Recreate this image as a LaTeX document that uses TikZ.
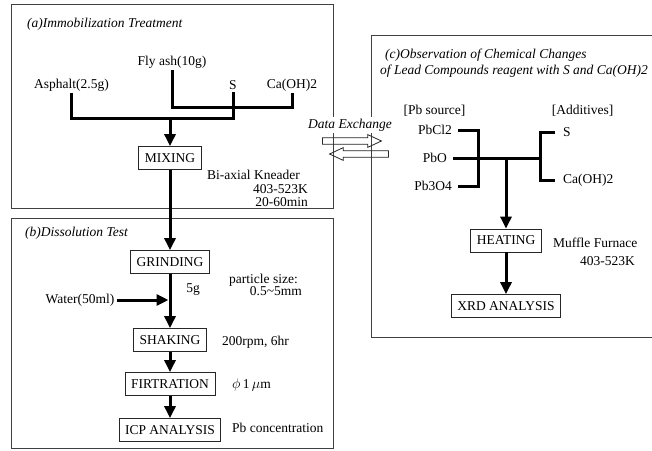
\documentclass[tikz,border=0pt]{standalone}
\usepackage{fontspec}
\setmainfont{Liberation Serif}
\usetikzlibrary{arrows.meta,shapes.arrows}
\begin{document}
\begin{tikzpicture}[x=1pt,y=-1pt,
  font=\fontsize{13.5}{16}\selectfont,
  frame/.style={draw=black!75,line width=0.7pt},
  procbox/.style={draw=black!85,line width=0.8pt,inner xsep=6pt,inner ysep=0pt,minimum height=23pt,fill=white},
  lab/.style={inner sep=2pt},
  plain/.style={inner sep=0pt},
  ttl/.style={inner sep=0pt,font=\fontsize{13.5}{16}\selectfont\itshape},
  flow/.style={line width=3pt},
  arr/.style={line width=3pt,-{Triangle[length=12pt,width=11pt]}},
  hollowarr/.style={single arrow,draw=black!85,line width=0.8pt,inner xsep=0pt,inner ysep=2.8pt,
    single arrow head extend=3.2pt,single arrow tip angle=50,minimum height=59pt}]
\useasboundingbox (0,0) rectangle (652,450);
\fill[white] (0,0) rectangle (652,450);

% frames
\draw[frame] (11,4) rectangle (333,208);
\draw[frame] (11,218) rectangle (333,448);
\draw[frame] (652,35) -| (371,337) -- (652,337);

% ---------- (a) ----------
\node[ttl,anchor=west] (ta) at (27,24) {(a)Immobilization Treatment};
\node[lab] (fly) at (172,62) {Fly ash(10g)};
\node[lab] (asphalt) at (71.5,85) {Asphalt(2.5g)};
\node[lab] (sa) at (233,85) {S};
\node[lab] (caa) at (292,85) {Ca(OH)2};
\node[procbox] (mixing) at (170,158) {MIXING};
\node[plain,anchor=west] (kn) at (207,175) {Bi-axial Kneader};
\node[plain,anchor=east] (kt) at (308,189) {403-523K};
\node[plain,anchor=east] (km) at (308,202.5) {20-60min};

\coordinate (jFly) at (172,107);
\coordinate (jCa) at (292,107);
\coordinate (jAs) at (71.5,118);
\coordinate (jS) at (233,118);
\coordinate (jMix) at (170,118);
\draw[flow] (fly.south) -- (jFly) -- (jCa) -- (caa.south);
\draw[flow] (asphalt.south) -- (jAs) -- (jS) -- (sa.south);
\draw[arr] (jMix) -- (mixing.north);

% ---------- (b) ----------
\node[ttl,anchor=west] (tb) at (25,233) {(b)Dissolution Test};
\node[procbox] (grinding) at (170,262) {GRINDING};
\node[plain,anchor=west] (ps1) at (229,280) {particle size:};
\node[plain,anchor=east] (ps2) at (302,291) {0.5\textasciitilde5mm};
\node[plain] (fiveg) at (193,290) {5g};
\node[lab] (water) at (80,300) {Water(50ml)};
\coordinate (wj) at (168.5,300);
\node[procbox] (shaking) at (170,340) {SHAKING};
\node[plain,anchor=west] (rpm) at (222,342) {200rpm, 6hr};
\node[procbox] (firt) at (170,384) {FIRTRATION};
\node[plain,anchor=west] (phi) at (232,385) {$\phi$\,1\,$\mu$m};
\node[procbox] (icp) at (170,430) {ICP ANALYSIS};
\node[plain,anchor=west] (pbc) at (232,428) {Pb concentration};

\draw[arr] (mixing.south) -- (grinding.north);
\draw[arr] (grinding.south) -- (shaking.north);
\draw[arr] (water.east) -- (wj);
\draw[arr] (shaking.south) -- (firt.north);
\draw[arr] (firt.south) -- (icp.north);

% ---------- (c) ----------
\node[ttl,anchor=west] (tc1) at (385,55) {(c)Observation of Chemical Changes};
\node[ttl,anchor=west] (tc2) at (380,71) {of Lead Compounds reagent with S and Ca(OH)2};
\node[plain] (pbsrc) at (434.5,111) {[Pb source]};
\node[plain] (addit) at (582.5,111) {[Additives]};
\node[lab,anchor=east] (pbcl) at (454,130) {PbCl2};
\node[lab,anchor=east] (pbo) at (449,158) {PbO};
\node[lab,anchor=east] (pb3) at (454,186) {Pb3O4};
\node[lab,anchor=west] (sc) at (561,132) {S};
\node[lab,anchor=west] (cac) at (561,180) {Ca(OH)2};
\node[procbox] (heating) at (506,240.5) {HEATING};
\node[plain,anchor=west] (muf) at (553,243) {Muffle Furnace};
\node[plain,anchor=east] (mk) at (635,261) {403-523K};
\node[procbox] (xrd) at (506,306) {XRD ANALYSIS};

\coordinate (barT) at (478,130);
\coordinate (barB) at (478,186);
\coordinate (addM) at (540,158);
\coordinate (addT) at (540,132);
\coordinate (addB) at (540,180);
\coordinate (hj) at (506,158);
\draw[flow] ([xshift=4pt]pbcl.east) -- (barT) -- (barB) -- ([xshift=4pt]pb3.east);
\draw[flow] ([xshift=4pt]pbo.east) -- (addM);
\draw[flow] ([xshift=-6pt]sc.west) -- (addT) -- (addB) -- ([xshift=-6pt]cac.west);
\draw[arr] (hj) -- (heating.north);
\draw[arr] (heating.south) -- (xrd.north);

% ---------- data exchange ----------
\node[ttl,fill=white,inner sep=1.5pt] (dx) at (350,125) {Data Exchange};
\node[hollowarr] (dxr) at (348.5,141) {};
\node[hollowarr,shape border rotate=180] (dxl) at (362.5,154) {};
\end{tikzpicture}
\end{document}
